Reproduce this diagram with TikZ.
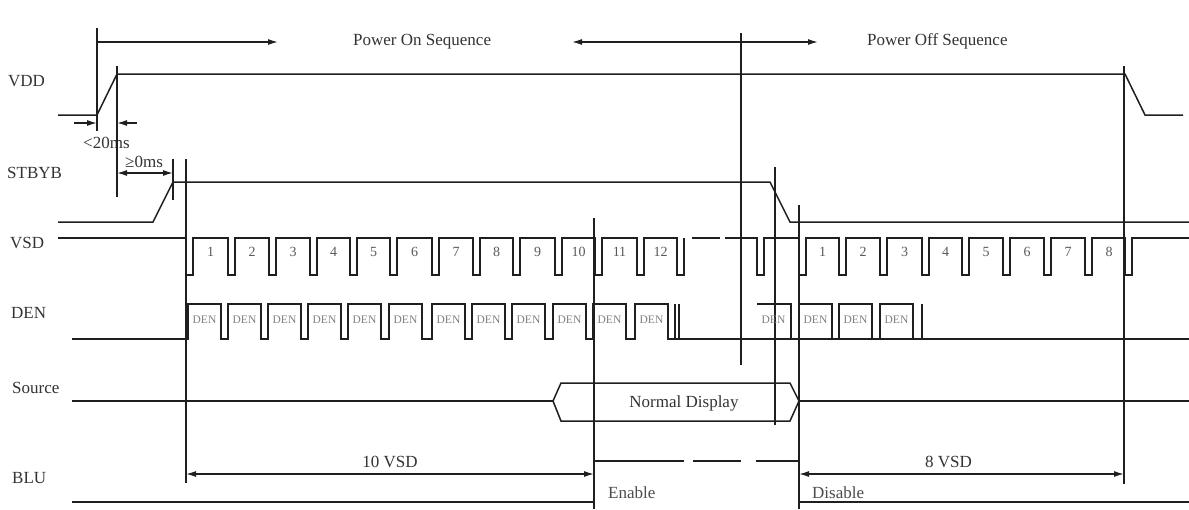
\documentclass[tikz,border=0pt]{standalone}
\usepackage{fontspec}
\setmainfont{Liberation Serif}
\usetikzlibrary{arrows.meta}
\begin{document}
\begin{tikzpicture}[x=1pt,y=-1pt,
  wave/.style={line width=1.5pt, draw=black!88, line join=miter},
  guide/.style={line width=1.4pt, draw=black!88},
  dimr/.style={line width=1.4pt, draw=black!88, -{Latex[length=10pt,width=6pt]}},
  dimb/.style={line width=1.4pt, draw=black!88, {Latex[length=10pt,width=6pt]}-{Latex[length=10pt,width=6pt]}},
  lbl/.style={anchor=base west, inner sep=0pt, text=black!80, font=\fontsize{17}{20}\selectfont},
  clbl/.style={lbl, anchor=base},
  num/.style={anchor=base, inner sep=0pt, text=black!65, font=\fontsize{14}{16}\selectfont},
  denl/.style={anchor=base, inner sep=0pt, text=black!50, font=\fontsize{11.5}{13}\selectfont},
]
\useasboundingbox (0,0) rectangle (1189,509);
\fill[white] (0,0) rectangle (1189,509);

% ---------- signal names ----------
\node[lbl] (lVDD) at (8,86) {VDD};
\node[lbl] (lSTBYB) at (7,178) {STBYB};
\node[lbl] (lVSD) at (10,248) {VSD};
\node[lbl] (lDEN) at (11,318) {DEN};
\node[lbl] (lSrc) at (12,393) {Source};
\node[lbl] (lBLU) at (12,483) {BLU};

% ---------- texts ----------
\node[lbl] (pon) at (353,45) {Power On Sequence};
\node[lbl] (poff) at (867,45) {Power Off Sequence};
\node[lbl] (t20) at (83,148) {<20ms};
\node[lbl] (t0) at (125,167) {≥0ms};
\node[clbl] (v10) at (390,467) {10 VSD};
\node[lbl] (v8) at (925,467) {8 VSD};
\node[clbl] (nd) at (684,407) {Normal Display};
\node[lbl, text=black!70] (en) at (608,498) {Enable};
\node[lbl, text=black!70] (dis) at (812,498) {Disable};

% ---------- guide lines ----------
\coordinate (g1t) at (97,28);   \coordinate (g1b) at (97,131);
\coordinate (g2t) at (117,66);  \coordinate (g2b) at (117,197);
\coordinate (g3t) at (173,159); \coordinate (g3b) at (173,200);
\coordinate (g4t) at (186,159); \coordinate (g4b) at (186,483);
\coordinate (g5t) at (594,218); \coordinate (g5b) at (594,509);
\coordinate (g6t) at (741,33);  \coordinate (g6b) at (741,365);
\coordinate (g7t) at (775,167); \coordinate (g7b) at (775,425);
\coordinate (g8t) at (799,205); \coordinate (g8b) at (799,509);
\coordinate (g9t) at (1124,66); \coordinate (g9b) at (1124,484);
\foreach \g in {1,...,9} \draw[guide] (g\g t) -- (g\g b);

% ---------- dimension arrows ----------
\coordinate (pOnEnd) at (278,42);
\draw[dimr] (pOnEnd -| g1t) -- (pOnEnd);
\coordinate (pOffA) at (572,42); \coordinate (pOffB) at (818,42);
\draw[dimb] (pOffA) -- (pOffB);
\coordinate (m20a) at (74,123); \coordinate (m20b) at (137,123);
\draw[dimr] (m20a) -- (m20a -| g1t);
\draw[dimr] (m20b) -- (m20b -| g2t);
\coordinate (m0) at (145,173);
\draw[dimb] (m0 -| g2t) -- (m0 -| g3t);
\coordinate (m10) at (390,474);
\draw[dimb] (m10 -| g4t) -- (m10 -| g5t);
\draw[dimb] (m10 -| g8t) -- (m10 -| g9t);

% ---------- VDD ----------
\draw[wave] (58,115) -- (97,115) -- (117,74) -- (1125,74) -- (1145,115) -- (1183,115);

% ---------- STBYB ----------
\draw[wave] (58,222) -- (153,222) -- (173,182) -- (770,182) -- (790,222) -- (1189,222);

% ---------- VSD ----------
\draw[wave] (58,238)
  \foreach \f in {186,228,269,310,350,390,432,473,513,555,595,637,677}
    { -- (\f,238) -- (\f,275) -- (\f+7,275) -- (\f+7,238) };
\draw[wave] (692,238) -- (720,238);
\draw[wave] (725,238)
  \foreach \f in {757,799,839,880,922,962,1003,1044,1085,1125}
    { -- (\f,238) -- (\f,275) -- (\f+7,275) -- (\f+7,238) }
  -- (1189,238);
\foreach \a/\b [count=\i] in {186/228,228/269,269/310,310/350,350/390,390/432,432/473,473/513,513/555,555/595,595/637,637/677}
  \node[num] (nl\i) at ({(\a+7+\b)/2},256) {\i};
\foreach \a/\b [count=\i] in {799/839,839/880,880/922,922/962,962/1003,1003/1044,1044/1085,1085/1126}
  \node[num] (nr\i) at ({(\a+7+\b)/2},256) {\i};

% ---------- DEN ----------
\draw[wave] (72,339)
  \foreach \x in {188,228,268,308,348,389,432,472,512,553,593,635}
    { -- (\x,339) -- (\x,304) -- (\x+33,304) -- (\x+33,339) }
  -- (1189,339);
\draw[wave] (675,339) -- (675,304);
\draw[wave] (679,339) -- (679,304);
\draw[wave] (757,304) -- (791,304) -- (791,339);
\foreach \x in {799,839,880}
  \draw[wave] (\x,339) -- (\x,304) -- (\x+33,304) -- (\x+33,339);
\draw[wave] (922,339) -- (922,304);
\foreach \x [count=\i] in {188,228,268,308,348,389,432,472,512,553,593,635,757,799,839,880}
  \node[denl] (d\i) at ({\x+16.5},323) {DEN};

% ---------- Source ----------
\draw[wave] (72,401) -- (553,401);
\draw[wave] (553,401) -- (561,383) -- (790,383) -- (799,401) -- (790,421) -- (561,421) -- cycle;
\draw[wave] (799,401) -- (1189,401);

% ---------- BLU ----------
\draw[wave] (72,502) -- (594,502);
\draw[wave] (594,461) -- (684,461);
\draw[wave] (693,461) -- (741,461);
\draw[wave] (756,461) -- (799,461);
\draw[wave] (799,502) -- (1189,502);
\end{tikzpicture}
\end{document}
